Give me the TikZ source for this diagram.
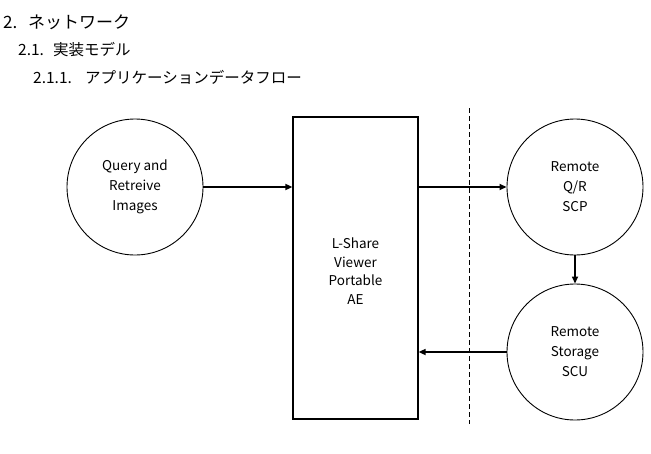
\documentclass[tikz,border=0pt]{standalone}
\usepackage{fontspec}
\setmainfont{Noto Sans CJK JP}
\usepackage{tikz}
\usetikzlibrary{positioning, arrows.meta, calc}

\newcommand{\secnum}[2]{\makebox[#1][l]{#2}}

\begin{document}
\begin{tikzpicture}[x=1pt, y=-1pt,
    proc/.style={draw, circle, line width=0.9pt, minimum size=136pt, align=center, font=\fontsize{13.5}{20}\selectfont},
    box/.style={draw, rectangle, line width=1.2pt, minimum width=125pt, minimum height=302pt},
    flow/.style={-{Triangle[length=7pt, width=6pt]}, line width=1.6pt},
    head/.style={anchor=west, inner sep=0pt}]
      \useasboundingbox (0,0) rectangle (651,453);

      % Headings
      \node[head, font=\fontsize{17}{18}\selectfont] (h1) at (3, 22) {\secnum{25pt}{2.}ネットワーク};
      \node[head, font=\fontsize{15.5}{16}\selectfont] (h2) at (18, 50) {\secnum{35pt}{2.1.}実装モデル};
      \node[head, font=\fontsize{15.5}{16}\selectfont] (h3) at (33, 77) {\secnum{52pt}{2.1.1.}アプリケーションデータフロー};

      % Local application
      \node[proc] (query) at (135, 187) {Query and\\Retreive\\Images};
      \node[box] (viewer) at (355.5, 268) {};
      \node[align=center, font=\fontsize{13.5}{18.5}\selectfont] (viewertext) at (355.5, 271) {L-Share\\Viewer\\Portable\\AE};

      % Boundary
      \coordinate (btop) at (469, 108);
      \coordinate (bbot) at (469, 424);
      \draw[dashed, line width=0.9pt, dash pattern=on 5pt off 3pt] (btop) -- (bbot);

      % Remote side
      \node[proc] (remoteqr) at (575, 187) {Remote\\Q/R\\SCP};
      \node[proc] (remotestore) at (575, 352) {Remote\\Storage\\SCU};

      % Arrows
      \draw[flow] (query) -- (query -| viewer.west);
      \draw[flow] (viewer.east |- remoteqr) -- (remoteqr);
      \draw[flow] (remoteqr) -- (remotestore);
      \draw[flow] (remotestore) -- (remotestore -| viewer.east);
\end{tikzpicture}
\end{document}
